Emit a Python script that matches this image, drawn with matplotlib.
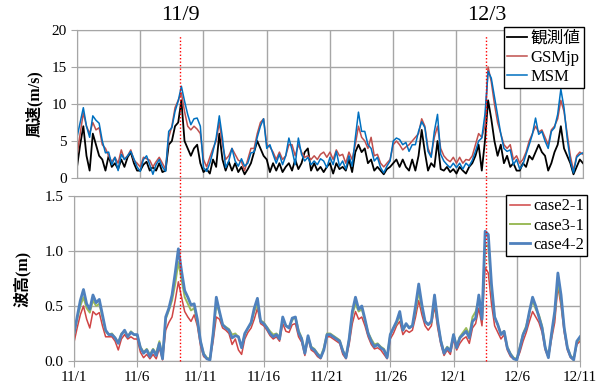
import numpy as np
import matplotlib.pyplot as plt
from matplotlib.lines import Line2D


# données (pas de 6 h, du 11/1 au 12/11)

tick_labels = ['11/1', '11/6', '11/11', '11/16', '11/21', '11/26', '12/1', '12/6', '12/11']
tick_days = [0, 5, 10, 15, 20, 25, 30, 35, 40]
event_labels = ['11/9', '12/3']
event_days = [8.4, 32.6]

obs = [1.5, 4.5, 7.0, 3.0, 1.0, 6.0, 4.5, 3.0,
       2.5, 1.0, 3.0, 1.5, 2.0, 1.2, 2.5, 1.5,
       2.8, 3.5, 2.0, 1.0, 1.0, 1.8, 2.2, 1.0,
       1.5, 1.0, 2.0, 0.8, 1.0, 4.5, 5.0, 7.0,
       7.5, 10.5, 5.0, 4.0, 3.0, 4.0, 4.5, 2.0,
       0.8, 1.2, 0.6, 2.5, 1.5, 6.0, 2.5, 1.0,
       2.2, 1.0, 2.0, 0.8, 1.5, 0.5, 1.2, 2.0,
       3.5, 5.0, 4.0, 3.0, 2.5, 0.8, 2.0, 1.0,
       2.0, 0.8, 1.5, 2.0, 1.0, 2.5, 1.2, 2.0,
       3.5, 4.0, 1.0, 2.0, 1.0, 1.5, 0.8, 1.5,
       2.0, 0.6, 2.0, 1.2, 1.5, 1.0, 2.5, 0.8,
       3.5, 4.5, 3.5, 4.0, 2.0, 2.5, 1.0, 1.5,
       1.0, 0.5, 1.2, 1.5, 2.0, 2.5, 1.5, 2.5,
       1.5, 1.0, 2.5, 1.0, 3.0, 6.5, 3.5, 1.0,
       2.0, 1.5, 5.0, 1.2, 1.0, 1.5, 0.8, 1.2,
       0.6, 1.5, 1.0, 0.6, 1.5, 2.0, 3.0, 4.5,
       1.0, 5.0, 10.5, 8.0, 5.0, 3.0, 4.5, 2.0,
       3.0, 1.5, 2.0, 1.0, 1.0, 2.0, 1.5, 3.0,
       2.5, 3.5, 4.5, 3.5, 3.0, 1.0, 2.0, 3.5,
       4.5, 7.0, 4.0, 3.0, 2.0, 0.5, 1.5, 2.5,
       2.0]

gsm = [3.0, 6.0, 8.8, 7.0, 6.0, 7.5, 6.5, 6.8,
       4.5, 4.0, 3.0, 2.2, 2.8, 2.0, 3.8, 2.5,
       3.0, 3.8, 2.4, 2.0, 1.5, 2.8, 2.6, 2.4,
       1.5, 2.2, 2.8, 2.0, 1.2, 5.5, 7.0, 9.5,
       10.5, 11.5, 9.0, 7.0, 6.5, 7.0, 6.6, 6.0,
       2.5, 1.5, 2.8, 4.0, 5.0, 7.5, 4.5, 2.5,
       3.0, 4.0, 3.2, 2.4, 2.2, 1.0, 2.5, 4.0,
       4.0, 6.0, 7.5, 8.0, 4.5, 4.2, 3.5, 2.5,
       3.5, 2.5, 3.0, 4.5, 4.5, 3.0, 4.5, 3.5,
       2.8, 3.0, 2.5, 3.0, 2.5, 3.2, 3.5, 2.8,
       3.5, 2.5, 3.8, 3.0, 3.2, 2.0, 3.5, 2.5,
       4.5, 7.0, 5.5, 5.0, 4.0, 5.5, 3.0, 3.2,
       2.0, 1.5, 2.0, 2.5, 4.5, 5.0, 4.5, 3.8,
       4.2, 4.5, 5.0, 5.5, 6.0, 8.0, 7.0, 4.0,
       3.0, 5.5, 7.0, 4.0, 3.0, 2.5, 2.2, 2.8,
       2.0, 2.8, 2.0, 2.5, 2.4, 3.0, 4.5, 6.0,
       5.5, 7.0, 15.0, 13.0, 10.0, 7.5, 6.0, 4.5,
       4.0, 4.5, 2.5, 3.0, 2.0, 2.5, 3.5, 5.0,
       6.0, 7.0, 6.2, 6.5, 5.5, 4.5, 6.5, 7.0,
       8.0, 10.5, 9.0, 6.0, 3.0, 1.0, 3.0, 3.5,
       3.2]

msm = [5.5, 7.5, 9.5, 7.0, 5.5, 8.4, 7.8, 7.4,
       5.0, 3.4, 3.5, 1.8, 2.8, 1.0, 3.2, 2.5,
       3.0, 3.6, 2.6, 1.5, 0.9, 2.5, 3.0, 1.8,
       0.5, 1.8, 2.5, 1.5, 0.9, 6.3, 6.8, 9.0,
       10.4, 12.4, 10.4, 8.6, 7.2, 8.0, 8.1, 7.0,
       1.4, 0.9, 2.0, 3.6, 5.4, 8.4, 5.4, 1.4,
       2.3, 4.0, 2.3, 1.6, 2.6, 1.6, 2.0, 3.4,
       3.5, 5.5, 7.0, 8.0, 4.0, 4.5, 3.2, 2.0,
       3.2, 1.8, 3.0, 5.4, 3.8, 1.8, 5.4, 3.2,
       2.3, 2.8, 1.8, 2.3, 1.8, 2.6, 2.3, 1.4,
       2.8, 1.8, 3.6, 1.6, 2.3, 1.2, 3.0, 1.6,
       5.4, 8.9, 6.3, 6.3, 4.5, 4.0, 2.3, 2.8,
       1.4, 0.7, 1.6, 2.3, 5.0, 5.4, 5.2, 4.5,
       4.8, 3.6, 4.5, 4.5, 6.3, 7.6, 6.8, 3.6,
       2.8, 6.3, 8.6, 3.2, 2.3, 1.8, 1.4, 2.0,
       1.4, 2.0, 1.2, 2.0, 1.6, 2.4, 3.6, 5.0,
       5.4, 8.6, 14.4, 13.5, 11.0, 8.5, 6.0, 4.0,
       3.6, 3.8, 1.8, 2.5, 1.2, 1.8, 3.2, 4.5,
       5.9, 8.1, 5.9, 6.3, 5.0, 4.0, 6.3, 6.8,
       8.6, 12.0, 9.5, 5.4, 2.3, 0.7, 2.8, 3.2,
       3.4]

case21 = [0.17, 0.30, 0.42, 0.50, 0.38, 0.30, 0.45, 0.42,
          0.44, 0.32, 0.22, 0.22, 0.22, 0.18, 0.10, 0.20,
          0.24, 0.20, 0.22, 0.20, 0.20, 0.08, 0.03, 0.06,
          0.02, 0.06, 0.02, 0.12, 0.01, 0.28, 0.35, 0.40,
          0.55, 0.72, 0.58, 0.45, 0.40, 0.36, 0.42, 0.32,
          0.14, 0.04, 0.02, 0.01, 0.18, 0.40, 0.38, 0.30,
          0.28, 0.25, 0.15, 0.20, 0.10, 0.06, 0.20, 0.26,
          0.30, 0.38, 0.48, 0.34, 0.32, 0.28, 0.23, 0.20,
          0.22, 0.18, 0.34, 0.27, 0.26, 0.33, 0.34, 0.22,
          0.17, 0.05, 0.20, 0.10, 0.08, 0.04, 0.02, 0.10,
          0.22, 0.22, 0.20, 0.18, 0.16, 0.06, 0.02, 0.15,
          0.34, 0.45, 0.38, 0.40, 0.32, 0.22, 0.15, 0.11,
          0.12, 0.10, 0.06, 0.02, 0.20, 0.25, 0.32, 0.36,
          0.24, 0.28, 0.26, 0.28, 0.40, 0.55, 0.42, 0.32,
          0.28, 0.32, 0.50, 0.30, 0.15, 0.05, 0.10, 0.06,
          0.20, 0.10, 0.16, 0.20, 0.22, 0.16, 0.30, 0.34,
          0.48, 0.32, 0.85, 0.80, 0.52, 0.32, 0.26, 0.20,
          0.24, 0.10, 0.04, 0.02, 0.01, 0.08, 0.18, 0.26,
          0.36, 0.45, 0.40, 0.35, 0.26, 0.10, 0.03, 0.20,
          0.35, 0.68, 0.50, 0.26, 0.10, 0.03, 0.01, 0.15,
          0.18]

case31 = [0.24, 0.38, 0.50, 0.58, 0.48, 0.44, 0.55, 0.50,
          0.52, 0.40, 0.27, 0.24, 0.25, 0.21, 0.17, 0.25,
          0.27, 0.22, 0.27, 0.24, 0.23, 0.13, 0.08, 0.11,
          0.06, 0.11, 0.07, 0.18, 0.04, 0.38, 0.46, 0.55,
          0.70, 0.90, 0.74, 0.58, 0.52, 0.46, 0.48, 0.36,
          0.18, 0.07, 0.03, 0.02, 0.24, 0.52, 0.44, 0.33,
          0.31, 0.29, 0.24, 0.25, 0.22, 0.13, 0.24, 0.30,
          0.34, 0.45, 0.52, 0.37, 0.35, 0.31, 0.27, 0.24,
          0.25, 0.22, 0.38, 0.32, 0.31, 0.37, 0.40, 0.28,
          0.21, 0.08, 0.22, 0.13, 0.11, 0.07, 0.04, 0.12,
          0.25, 0.25, 0.23, 0.21, 0.19, 0.10, 0.04, 0.20,
          0.42, 0.52, 0.45, 0.47, 0.37, 0.26, 0.20, 0.15,
          0.16, 0.13, 0.11, 0.04, 0.24, 0.30, 0.34, 0.42,
          0.28, 0.33, 0.31, 0.32, 0.46, 0.63, 0.48, 0.36,
          0.33, 0.35, 0.55, 0.35, 0.19, 0.08, 0.13, 0.10,
          0.24, 0.14, 0.22, 0.26, 0.30, 0.24, 0.40, 0.45,
          0.56, 0.40, 1.05, 1.05, 0.65, 0.40, 0.33, 0.25,
          0.27, 0.13, 0.07, 0.03, 0.02, 0.13, 0.25, 0.32,
          0.44, 0.55, 0.47, 0.42, 0.32, 0.13, 0.04, 0.24,
          0.43, 0.72, 0.55, 0.30, 0.13, 0.05, 0.02, 0.17,
          0.20]

case42 = [0.25, 0.40, 0.55, 0.65, 0.52, 0.47, 0.60, 0.53,
          0.56, 0.42, 0.28, 0.24, 0.24, 0.21, 0.16, 0.24,
          0.28, 0.22, 0.26, 0.24, 0.24, 0.12, 0.07, 0.10,
          0.04, 0.10, 0.05, 0.16, 0.02, 0.40, 0.48, 0.60,
          0.80, 1.02, 0.82, 0.64, 0.58, 0.51, 0.52, 0.38,
          0.18, 0.06, 0.02, 0.01, 0.25, 0.58, 0.45, 0.33,
          0.30, 0.28, 0.21, 0.23, 0.22, 0.12, 0.25, 0.30,
          0.35, 0.48, 0.57, 0.36, 0.34, 0.30, 0.25, 0.22,
          0.24, 0.20, 0.40, 0.32, 0.30, 0.39, 0.40, 0.26,
          0.20, 0.07, 0.23, 0.12, 0.10, 0.06, 0.03, 0.10,
          0.24, 0.24, 0.22, 0.20, 0.18, 0.09, 0.03, 0.20,
          0.45, 0.58, 0.47, 0.50, 0.38, 0.25, 0.18, 0.13,
          0.15, 0.12, 0.10, 0.03, 0.24, 0.30, 0.36, 0.45,
          0.28, 0.34, 0.30, 0.32, 0.50, 0.70, 0.51, 0.36,
          0.33, 0.36, 0.60, 0.36, 0.18, 0.07, 0.12, 0.09,
          0.24, 0.12, 0.21, 0.24, 0.27, 0.21, 0.36, 0.39,
          0.60, 0.38, 1.18, 1.15, 0.70, 0.40, 0.33, 0.24,
          0.27, 0.12, 0.06, 0.02, 0.01, 0.12, 0.24, 0.30,
          0.45, 0.58, 0.50, 0.40, 0.30, 0.12, 0.03, 0.25,
          0.45, 0.80, 0.60, 0.30, 0.12, 0.04, 0.01, 0.18,
          0.22]

days = np.arange(len(obs)) / 4.0

serif = ['Liberation Serif', 'Noto Sans CJK JP']
grid_c = '#A6A6A6'

fig = plt.figure(figsize=(6.03, 3.89), dpi=100)
ax1 = fig.add_axes([0.1277, 0.5424, 0.8391, 0.3805])
ax2 = fig.add_axes([0.1227, 0.0720, 0.8392, 0.4241])

ax1.plot(days, obs, color='black', lw=1.3, label='観測値')
ax1.plot(days, gsm, color='#C0504D', lw=1.1, label='GSMjp')
ax1.plot(days, msm, color='#0070C0', lw=1.1, label='MSM')

ax2.plot(days, case21, color='#D04545', lw=1.1, label='case2-1')
ax2.plot(days, case31, color='#9BBB59', lw=1.4, label='case3-1')
ax2.plot(days, case42, color='#4F81BD', lw=2.0, label='case4-2')

for ax in (ax1, ax2):
    ax.set_xlim(0, 40)
    ax.set_xticks(tick_days)
    ax.grid(True, color=grid_c, lw=1.0)
    ax.set_axisbelow(True)
    for s in ax.spines.values():
        s.set_color(grid_c)
    ax.tick_params(colors=grid_c, length=4, labelcolor='black', labelsize=11)

ax1.set_ylim(0, 20)
ax1.set_yticks([0, 5, 10, 15, 20])
ax1.set_yticklabels(['0', '5', '10', '15', '20'], family=serif, fontsize=11)
ax1.set_xticklabels([])
ax1.tick_params(axis='x', length=0)

ax2.set_ylim(0, 1.5)
ax2.set_yticks([0, 0.5, 1.0, 1.5])
ax2.set_yticklabels(['0.0', '0.5', '1.0', '1.5'], family=serif, fontsize=11)
ax2.set_xticklabels(tick_labels, family=serif, fontsize=11)

ax1.set_ylabel('風速(m/s)', family=serif, fontweight='bold', fontsize=11.5)
ax2.set_ylabel('波高(m)', family=serif, fontweight='bold', fontsize=11.5)
ax1.yaxis.set_label_coords(-0.068, 0.5)
ax2.yaxis.set_label_coords(-0.086, 0.5)

leg_kw = dict(prop={'family': serif, 'size': 12}, frameon=True, fancybox=False,
              edgecolor='black', framealpha=1, handlelength=1.2, handletextpad=0.2,
              labelspacing=0.2, borderpad=0.2, borderaxespad=0)
l1 = ax1.legend(loc='upper right', bbox_to_anchor=(1.002, 1.02), **leg_kw)
l2 = ax2.legend(loc='upper right', bbox_to_anchor=(1.014, 1.006), **leg_kw)
for l in (l1, l2):
    l.get_frame().set_linewidth(1.0)

# lignes verticales pointillées sur les deux graphes
inv = fig.transFigure.inverted()
top_y = 1 - 36 / 389.0
bot_y = ax2.get_position().y0
for lab, d in zip(event_labels, event_days):
    xf = inv.transform(ax2.transData.transform((d, 0)))[0]
    fig.add_artist(Line2D([xf, xf], [bot_y, top_y], transform=fig.transFigure,
                          color='red', lw=1.0, ls=(0, (1, 1.5))))
    fig.text(xf, 1 - 16 / 389.0, lab, family=serif, fontsize=16,
             ha='center', va='center')

fig.savefig('out.png', dpi=100)
